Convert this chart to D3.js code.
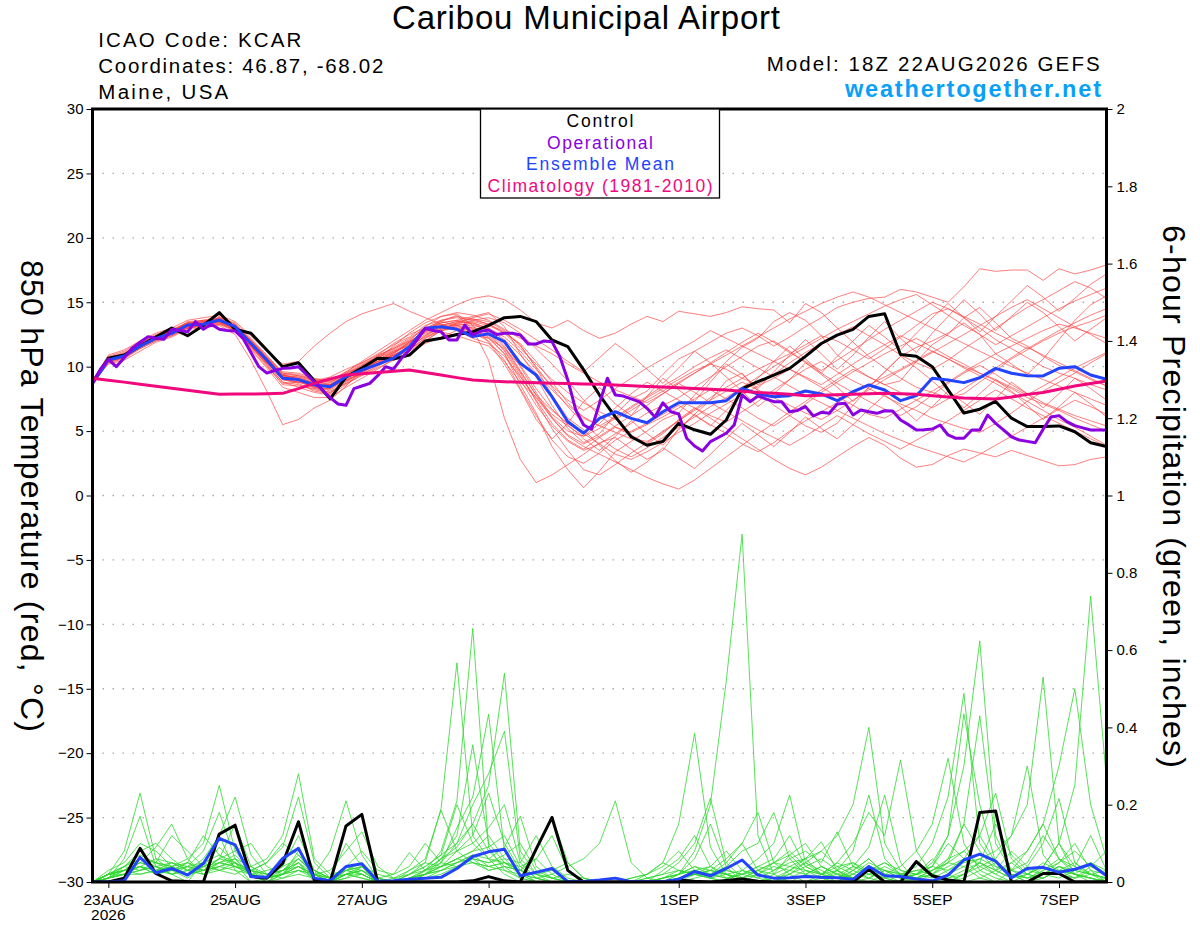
<!DOCTYPE html>
<html><head><meta charset="utf-8">
<script src="https://cdn.jsdelivr.net/npm/d3@7"></script>
<style>
body{margin:0;background:#fff}
svg{display:block}
text{font-family:"Liberation Sans",Arial,Helvetica,sans-serif}
</style>
</head><body>
<svg id="chart" width="1200" height="927"></svg>
<script>
// ---------------- DATA ----------------
const runStart = "2026-08-22T18:00:00Z";
const runEnd = "2026-09-07T18:00:00Z";
const tempTicks = [-30,-25,-20,-15,-10,-5,0,5,10,15,20,25,30];
const gridTicks = [-25,-20,-15,-10,-5,0,5,10,15,20,25];
const precipTicks = [0,0.2,0.4,0.6,0.8,1,1.2,1.4,1.6,1.8,2];
const precipTickLabels = ["0","0.2","0.4","0.6","0.8","1","1.2","1.4","1.6","1.8","2"];
const dateTicks = ["2026-08-23","2026-08-25","2026-08-27","2026-08-29","2026-09-01","2026-09-03","2026-09-05","2026-09-07"];
const dateTickLabels = ["23AUG","25AUG","27AUG","29AUG","1SEP","3SEP","5SEP","7SEP"];
const legendItems = ["Control","Operational","Ensemble Mean","Climatology (1981-2010)"];

// 6-hourly control temperature (°C)
const controlTemp = [8.8,10.65,10.9,11.6,12.3,13.0,12.4,13.2,14.2,12.9,
 12.6,11.3,10.0,10.3,8.9,7.5,9.2,9.9,10.65,10.6,
 10.9,12.0,12.2,12.5,12.7,13.2,13.8,13.9,13.5,12.07,
 11.55,9.75,7.8,6.1,4.56,3.9,4.2,5.6,5.1,4.75,
 5.86,8.3,8.83,9.35,9.87,10.8,11.8,12.45,12.9,13.9,
 14.1,10.95,10.8,10.0,8.2,6.4,6.7,7.3,6.0,5.35,
 5.35,5.4,4.95,4.1,3.8];
// 3-hourly operational temperature (°C)
const operationalTemp = [8.7,9.8,10.57,10.0,10.7,11.43,11.9,12.33,12.2,12.12,
 12.9,12.8,12.7,13.5,12.9,13.3,12.9,12.8,12.77,12.2,
 11.1,10.0,9.5,9.7,9.87,9.9,10.0,9.4,8.83,8.19,
 7.6,7.1,7.0,8.3,8.5,8.7,9.3,10.0,9.8,10.65,
 11.3,12.1,12.98,12.8,12.7,12.07,12.07,13.23,12.46,12.75,
 12.85,12.5,12.6,12.6,12.46,11.76,11.76,12.0,11.94,10.77,
 8.97,6.64,5.47,5.14,7.16,9.1,7.8,7.72,7.5,7.28,
 6.77,6.1,7.2,6.5,6.33,4.44,3.84,3.45,4.18,4.5,
 4.83,5.47,7.8,7.28,7.72,7.5,7.28,7.28,6.5,6.6,
 6.9,6.17,6.46,6.38,7.1,7.16,6.25,6.64,6.5,6.38,
 6.58,6.56,5.86,5.5,5.08,5.1,5.16,5.47,4.7,4.44,
 4.44,5.08,5.08,6.25,5.6,5.1,4.56,4.3,4.2,4.1,
 5.14,6.1,6.2,5.73,5.42,5.25,5.08,5.08,5.08];
// 6-hourly ensemble mean temperature (°C)
const meanTemp = [8.71,10.52,10.83,11.6,12.2,12.59,13.23,13.29,13.62,13.1,
 11.8,10.52,9.1,9.0,8.58,8.45,9.22,9.74,10.18,10.67,
 11.55,12.98,13.1,12.9,12.33,12.55,11.94,10.26,9.35,7.67,
 5.73,4.83,5.99,6.5,5.99,5.65,6.5,7.2,7.2,7.2,
 7.36,8.32,7.88,7.67,7.75,8.11,7.88,7.36,8.06,8.58,
 8.19,7.36,7.75,9.1,8.97,8.76,9.14,9.87,9.49,9.3,
 9.28,9.87,10.0,9.35,9.02];
// 6-hourly climatology (°C)
const climTemp = [9.1,8.95,8.8,8.63,8.48,8.32,8.17,8.01,7.86,7.87,
 7.88,7.9,7.93,8.3,8.7,9.05,9.35,9.45,9.55,9.65,
 9.74,9.55,9.35,9.15,8.97,8.88,8.83,8.8,8.76,8.72,
 8.69,8.66,8.63,8.58,8.52,8.47,8.42,8.36,8.3,8.24,
 8.19,8.1,8.0,7.93,7.85,7.75,7.78,7.82,7.86,7.9,
 7.93,7.9,7.85,7.75,7.65,7.56,7.52,7.49,7.65,7.85,
 8.0,8.25,8.5,8.7,8.89];
// ensemble members, 6-hourly temperature (°C)
const tempMembers = [
[8.9,10.8,11.2,11.9,12.5, 12.9,13.4,13.6,13.9,13.3, 12.0,10.6,9.4,9.0,8.3, 8.0,8.7,9.5,10.3,11.0, 11.8,12.9,13.4,13.6,13.9, 14.2,13.1,11.0,9.2,7.0, 5.2,4.1,4.8,6.3,7.5, 8.1,9.4,10.6,11.2,11.9, 12.6,13.0,12.4,11.6,12.3, 13.1,13.8,14.6,15.0,15.3, 15.4,16.0,15.8,15.4,15.0, 16.2,17.6,17.4,17.5,17.5, 16.7,17.6,17.2,17.5,17.9],
[8.6,10.3,10.6,11.4,12.0, 12.4,13.0,13.3,13.5,13.0, 11.5,10.2,8.8,8.4,8.0, 7.8,8.6,9.4,10.1,11.0, 11.9,12.8,13.5,14.0,12.9, 10.5,6.0,2.8,1.0,1.6, 2.4,3.2,4.1,4.5,3.6, 2.8,3.5,5.2,6.3,7.4, 8.9,9.5,8.1,7.0,6.2, 5.4,4.9,5.6,7.0,8.4, 9.6,10.8,11.5,12.0,12.6, 13.4,12.5,11.0,10.2,9.4, 10.6,12.1,13.6,14.8,15.5],
[8.8,10.6,10.9,11.8,12.4, 12.8,13.3,13.2,13.8,13.4, 12.2,10.9,9.5,9.3,8.9, 8.6,9.0,9.4,10.0,10.8, 11.5,12.4,13.2,13.0,12.8, 12.3,11.0,8.6,6.4,3.8, 2.0,0.6,1.9,3.4,4.2, 5.0,5.9,6.4,7.8,9.1, 10.4,11.5,12.2,13.5,14.2, 13.6,12.4,10.9,10.0,9.2, 8.6,8.9,10.4,11.7,12.5, 13.8,14.6,13.4,12.2,11.6, 10.8,10.1,9.6,9.0,8.5],
[8.7,10.4,10.9,11.6,12.3, 12.7,13.5,13.6,13.7,13.2, 12.1,10.8,9.6,9.5,9.1, 8.9,9.6,10.4,11.2,12.0, 12.8,13.6,14.2,14.8,15.3, 15.5,15.2,14.4,13.4,13.0, 13.6,12.8,12.2,12.6,13.3, 13.9,13.5,14.3,14.1,13.9, 14.2,14.65,14.5,14.4,13.4, 14.9,14.2,13.0,11.9,10.8, 9.9,9.1,8.4,8.0,7.6, 7.9,8.8,9.7,10.6,11.3, 12.0,12.6,13.1,13.5,14.0],
[8.6,10.5,10.7,11.5,12.1, 12.5,13.1,13.4,13.5,12.9, 11.6,10.1,8.6,8.5,8.3, 8.3,9.0,9.8,10.4,10.9, 11.4,12.0,12.8,13.2,13.0, 12.6,11.2,9.3,7.4,5.6, 4.3,3.6,4.5,5.3,4.7, 4.0,4.8,5.9,6.8,6.0, 5.2,4.4,3.6,2.8,2.1, 1.6,2.2,3.0,3.8,4.5, 3.9,2.9,2.2,2.4,3.1, 3.6,3.3,3.0,3.5,3.1, 2.7,2.3,2.4,2.8,3.0],
[8.8,10.2,10.5,11.2,11.9, 12.3,12.9,13.0,13.2,12.5, 10.5,8.1,5.5,5.9,6.8, 7.4,8.5,9.7,10.9,11.8, 12.5,13.0,12.7,12.4,12.0, 11.6,10.4,8.8,7.6,6.3, 5.4,4.6,5.2,6.0,6.8, 7.6,8.3,9.0,9.7,10.2, 9.8,9.1,8.6,9.4,10.3, 11.1,11.8,12.5,13.1,12.4, 11.7,10.9,10.3,9.8,10.5, 11.4,12.2,13.0,13.8,14.6, 15.2,15.9,16.6,16.1,15.3],
[8.9,10.9,11.3,12.0,12.6, 13.0,13.6,13.8,14.0,13.5, 12.4,11.2,10.2,10.4,11.6, 12.6,13.5,14.1,14.5,14.9, 14.3,13.8,13.3,12.9,12.5, 12.2,11.0,9.0,7.0,5.4, 4.2,3.5,4.0,4.8,5.6, 6.4,7.0,7.6,8.4,9.2, 10.0,10.8,11.6,12.0,11.2, 10.3,9.5,8.7,8.0,7.3, 6.7,6.2,6.9,7.8,8.7, 9.5,10.1,9.4,8.6,7.9, 7.2,6.7,6.2,5.8,5.4],
[8.7,10.6,11.0,11.7,12.3, 12.7,13.2,13.3,13.4,12.8, 11.4,10.0,8.7,8.8,8.9, 9.2,9.8,10.3,10.9,11.4, 12.0,12.6,13.1,13.4,13.5, 13.2,12.6,11.8,10.4,8.8, 7.2,6.0,5.4,4.9,4.4, 4.2,4.9,5.8,6.7,7.6, 8.4,9.1,9.8,10.4,11.0, 11.7,12.4,12.0,11.3,10.6, 11.4,12.3,13.2,14.1,14.5, 13.8,13.0,12.1,11.4,10.7, 10.0,9.5,9.1,8.6,8.2],
[8.6,10.4,10.8,11.5,12.1, 12.6,13.2,13.1,13.3,12.7, 11.5,10.4,9.3,9.2,8.7, 8.4,8.9,9.6,10.2,10.9, 11.6,12.7,13.4,13.6,13.3, 12.8,11.8,10.0,8.0,6.1, 5.0,4.6,5.6,6.8,7.9, 8.8,8.1,7.4,6.8,6.2, 5.7,6.5,7.3,8.2,9.0, 9.8,10.4,9.6,8.9,8.3, 7.7,7.1,6.6,6.0,5.6, 5.2,4.9,5.6,6.4,7.3, 8.1,8.8,9.5,10.3,11.0],
[8.8,10.7,11.1,11.8,12.4, 12.8,13.3,13.5,13.8,13.3, 12.1,10.7,9.3,9.1,8.7, 8.6,9.3,9.9,10.4,10.9, 11.4,12.2,12.9,13.3,13.6, 13.8,13.4,12.6,11.4,10.2, 8.9,7.4,6.2,5.3,4.9, 5.5,6.1,6.8,7.5,8.2, 7.5,6.8,6.0,5.4,6.2, 7.1,8.0,8.8,9.6,10.3, 11.0,11.6,12.2,11.5,10.8, 10.2,9.5,8.9,8.3,7.6, 7.1,6.6,6.0,5.5,5.0],
[8.7,10.5,10.9,11.7,12.3, 12.6,13.0,13.2,13.6,13.2, 11.9,10.6,9.2,8.9,8.4, 8.2,8.9,9.5,10.2,10.8, 11.2,12.0,12.8,13.0,12.6, 12.0,10.5,8.3,6.2,4.3, 3.0,2.5,3.3,4.3,5.0, 5.6,6.3,7.0,6.2,5.5, 4.8,4.0,3.4,4.1,5.0, 5.8,6.5,7.2,7.9,8.6, 9.2,9.8,10.5,11.2,10.6, 9.9,9.3,8.7,8.0,7.3, 6.6,5.9,5.3,4.6,3.9],
[8.9,10.6,10.8,11.6,12.2, 12.7,13.3,13.5,13.7,13.1, 11.7,10.3,9.0,8.8,8.5, 8.6,9.4,10.1,10.7,11.3, 12.0,13.1,13.9,14.2,14.0, 13.6,12.9,12.2,11.6,11.0, 10.2,9.5,8.8,8.2,7.7, 7.2,7.9,8.7,9.5,10.3, 11.1,11.9,12.6,11.9,11.1, 10.4,9.7,10.5,11.3,12.1, 12.9,13.6,14.3,15.0,14.5, 13.9,13.3,12.6,12.0,11.4, 12.1,12.8,13.4,14.0,14.5],
[8.6,10.3,10.7,11.5,12.2, 12.5,13.0,13.1,13.3,12.9, 11.8,10.7,9.4,9.0,8.5, 8.1,8.7,9.3,9.9,10.5, 11.0,11.8,12.3,12.8,13.1, 12.6,11.5,9.6,7.8,6.6, 5.6,4.8,4.0,3.2,2.8, 3.4,4.1,4.9,5.6,6.4, 7.1,7.8,8.5,9.1,9.8, 9.1,8.4,7.7,7.0,6.3, 6.0,6.7,7.4,8.1,8.8, 9.6,10.3,11.0,11.6,12.2, 12.8,13.3,13.0,12.6,12.2],
[8.8,10.5,10.8,11.6,12.2, 12.6,13.1,13.2,13.5,13.0, 11.9,10.7,9.2,9.1,8.8, 8.7,9.5,10.2,10.8,11.5, 12.2,13.0,13.3,12.8,12.2, 11.8,10.8,9.2,7.6,6.0, 4.6,3.8,3.2,2.6,2.0, 1.4,0.9,0.5,1.2,2.1, 3.0,3.9,4.8,5.6,6.5, 7.3,8.2,9.0,9.8,9.2, 8.6,8.0,7.4,6.8,7.5, 8.3,9.1,9.9,10.7,11.5, 10.9,10.3,9.7,9.1,8.5],
[8.7,10.6,10.9,11.6,12.1, 12.5,13.2,13.4,13.6,13.2, 11.8,10.4,9.0,8.8,8.6, 8.4,9.1,9.8,10.4,11.1, 11.8,12.9,13.6,13.9,13.7, 13.5,12.8,11.6,10.0,8.4, 6.9,5.6,4.5,3.6,3.0, 3.7,4.5,5.3,6.1,6.9, 7.6,8.4,9.2,10.0,10.8, 11.5,12.2,12.9,13.5,14.1, 14.7,15.2,15.6,14.8,14.0, 13.2,12.5,11.7,12.4,13.1, 13.8,14.5,15.1,15.6,16.1],
[8.8,10.4,10.7,11.5,12.3, 12.8,13.4,13.5,13.6,13.0, 11.6,10.2,8.8,8.6,8.2, 8.0,8.8,9.6,10.3,10.9, 11.5,12.4,13.0,13.3,13.2, 12.9,12.1,10.9,9.5,8.2, 7.0,6.1,5.4,6.1,6.9, 7.7,8.5,9.2,10.0,10.7, 11.3,10.6,9.9,9.2,8.5, 7.8,7.2,6.6,6.0,5.4, 4.8,4.3,3.8,3.4,3.0, 2.6,3.2,3.9,4.6,5.3, 6.0,6.7,7.4,6.9,6.3],
[8.6,10.5,10.8,11.7,12.3, 12.7,13.3,13.4,13.6,13.1, 11.9,10.6,9.3,9.2,8.9, 8.8,9.5,10.0,10.6,11.1, 11.7,12.5,13.0,13.2,13.4, 13.0,12.3,11.2,9.8,8.5, 7.4,6.6,7.4,8.3,9.1, 9.9,10.6,11.3,12.0,12.8, 12.2,11.6,11.0,10.4,9.8, 9.2,8.6,9.4,10.2,11.0, 11.7,12.4,11.8,11.2,10.6, 10.0,9.5,9.0,8.4,7.8, 8.5,9.2,9.9,10.5,11.1],
[8.9,10.7,11.0,11.8,12.4, 12.7,13.2,13.3,13.5,12.9, 11.6,10.3,9.1,9.0,8.7, 8.5,9.2,9.9,10.5,11.2, 11.9,12.7,13.2,13.5,13.4, 12.9,11.6,9.7,7.8,6.0, 4.7,4.0,4.6,5.4,6.2, 7.0,7.9,8.7,8.0,7.2, 6.5,5.8,5.1,4.5,3.9, 4.6,5.4,6.2,5.5,4.8, 4.2,3.6,4.3,5.0,5.8, 6.6,7.4,8.2,7.5,6.8, 6.2,5.6,5.0,4.4,3.8],
[8.7,10.4,10.7,11.4,12.0, 12.4,13.0,13.2,13.4,12.8, 11.3,9.9,8.4,8.0,7.6, 7.6,8.4,9.1,9.8,10.6, 11.3,12.2,12.8,13.1,12.9, 12.4,11.3,9.5,7.3,5.2, 3.5,2.0,1.6,2.4,3.3, 4.1,5.0,5.8,6.6,7.4, 8.1,8.8,8.2,7.6,7.0, 6.4,5.9,6.6,7.4,8.2, 9.0,9.7,10.4,11.1,11.8, 12.5,13.2,13.9,14.6,15.2, 14.5,13.8,13.1,12.5,11.8],
[8.8,10.6,11.0,11.7,12.2, 12.6,13.1,13.3,13.7,13.2, 12.0,10.8,9.5,9.4,9.0, 8.9,9.6,10.3,11.0,11.7, 12.3,13.2,13.6,13.8,13.6, 13.3,12.6,11.4,10.2,9.0, 8.0,7.2,6.5,5.9,6.6, 7.4,8.1,8.8,9.5,10.2, 10.9,11.6,12.3,13.0,13.7, 14.3,14.9,15.4,15.8,15.4, 14.8,14.2,13.6,13.0,12.4, 11.8,11.2,10.6,10.0,9.5, 9.0,8.5,8.0,7.5,7.0],
[8.7,10.5,10.9,11.5,12.2, 12.8,13.2,13.6,13.4,13.0, 11.7,10.3,9.0,8.7,8.1, 7.9,8.9,9.8,10.6,11.6, 12.6,13.4,13.9,14.1,13.2, 11.9,10.2,8.2,5.9,4.4, 5.6,7.3,8.4,7.1,6.2, 7.7,9.1,8.2,7.3,8.8, 10.2,9.4,8.3,9.6,10.9, 12.1,11.0,9.8,10.9,12.3, 13.5,12.2,11.1,12.6,13.9, 15.2,14.1,12.8,13.9,15.0, 14.2,13.1,12.0,12.9,13.8],
[8.8,10.6,10.9,11.7,12.4, 12.7,13.3,13.4,13.8,13.1, 11.6,10.4,9.1,8.8,8.4, 8.3,9.1,9.7,10.4,11.1, 11.9,12.8,13.2,13.5,13.7, 13.3,12.7,11.7,9.9,7.8, 6.0,5.1,3.9,2.7,1.8, 2.6,3.7,2.9,2.1,3.2, 4.4,5.6,4.7,3.8,4.9, 6.1,5.2,4.4,5.5,6.7, 7.8,6.9,5.8,6.9,8.1, 7.2,6.3,7.5,8.8,7.9, 6.8,7.9,9.1,8.3,7.4],
[8.6,10.4,10.8,11.6,12.2, 12.6,13.1,13.3,13.5,13.0, 11.8,10.5,9.3,9.0,8.7, 8.6,9.3,10.0,10.7,11.2, 11.6,12.3,12.9,13.4,13.8, 14.1,13.6,12.9,12.1,11.3, 10.4,9.6,10.7,11.8,10.9, 9.8,8.7,9.9,11.2,10.3, 9.2,8.1,6.9,7.9,9.0, 10.3,9.4,8.4,7.3,8.4, 9.6,10.8,9.9,8.9,7.8, 6.8,7.9,9.0,8.1,7.0, 5.9,6.9,8.0,7.1,6.1],
[8.9,10.7,11.0,11.8,12.3, 12.8,13.4,13.5,13.6,13.2, 12.0,10.7,9.4,9.3,9.0, 8.8,9.4,10.1,10.8,11.4, 12.1,13.0,13.5,13.2,12.7, 12.2,11.4,10.1,8.3,6.7, 5.5,4.4,3.5,4.6,5.8, 4.8,3.9,5.1,6.3,5.4, 6.6,7.9,9.1,10.4,11.6, 10.6,9.5,10.8,12.0,13.2, 12.3,11.3,12.6,13.8,14.9, 13.8,12.7,13.9,15.1,16.3, 15.4,14.3,15.3,16.4,17.2]
];

// 6-hour precipitation (inches)
const controlPrecip = [0,0,0.01,0.087,0.022,0.003,0.001,0,0.124,0.147,0.014,0.01,0.048,
 0.156,0.005,0,0.145,0.175,0,0,0,0,0,0,0.003,0.014,
 0.003,0,0.085,0.167,0.03,0,0,0,0,0,0,0.005,0.002,
 0,0.004,0.008,0.002,0,0,0,0,0,0,0.033,0,0,
 0.053,0.016,0.005,0,0.18,0.184,0,0,0.022,0.022,0,0,0];
const meanPrecip = [0,0,0.003,0.064,0.024,0.035,0.018,0.048,0.113,0.096,0.014,0.012,0.061,
 0.087,0.01,0.003,0.04,0.047,0.002,0.003,0.007,0.01,0.012,0.035,0.066,0.078,
 0.085,0.016,0.025,0.035,0.001,0.001,0.005,0.01,0.001,0.001,0.001,0.007,0.027,
 0.016,0.035,0.057,0.018,0.01,0.011,0.014,0.012,0.011,0.007,0.04,0.016,0.014,
 0.008,0.003,0.018,0.057,0.072,0.054,0.011,0.035,0.038,0.025,0.033,0.046,0.016];
const precipMembers = [
[0,0.02,0.08,0.23,0.06,0.03,0.01,0.04,0.09,0.05,0,0,0.03, 0.07,0.02,0,0.04,0.03,0,0,0.02,0.05,0.19,0.567,0.12,0.06, 0.02,0,0,0,0,0,0,0,0,0,0,0.02,0.08, 0.2,0.52,0.9,0.12,0.02,0,0,0,0.03,0,0,0,0, 0,0,0.02,0.04,0.01,0,0,0,0.03,0.05,0.1,0.03,0],
[0,0.01,0.06,0.17,0.04,0.02,0,0.05,0.12,0.03,0,0.01,0.02, 0.05,0,0,0.02,0.01,0,0,0.01,0.03,0.08,0.21,0.656,0.09, 0.03,0.01,0,0,0,0,0,0,0,0,0,0,0.02, 0.01,0,0.03,0.02,0,0,0,0.02,0.03,0.08,0.225,0.06,0.02, 0,0,0.01,0.02,0.05,0.02,0,0,0.04,0.1,0.25,0.74,0.264],
[0,0.03,0.05,0.1,0.08,0.04,0.02,0.03,0.06,0.15,0.04,0.01,0.02, 0.04,0.01,0,0.03,0.02,0,0,0,0.02,0.06,0.12,0.355,0.1, 0.05,0.02,0,0,0,0,0,0,0,0,0.01,0.03,0.02, 0.04,0.02,0,0,0,0.02,0.05,0.03,0.01,0.04,0.09,0.225,0.05, 0,0,0,0.02,0.04,0.06,0.12,0.2,0.53,0.1,0.02,0,0.01],
[0,0.02,0.04,0.08,0.1,0.06,0.03,0.02,0.05,0.07,0.03,0,0.01, 0.03,0.02,0,0.01,0.04,0,0,0.02,0.04,0.07,0.1,0.15,0.08, 0.04,0.01,0,0,0,0,0,0,0,0.02,0.04,0.08,0.03, 0.01,0,0,0.02,0.05,0.08,0.04,0.02,0.05,0.1,0.18,0.12,0.316, 0.08,0.02,0,0.01,0.03,0.05,0.02,0,0.02,0.04,0.02,0.01,0],
[0,0.01,0.03,0.05,0.09,0.15,0.06,0.02,0.04,0.06,0.02,0.01,0.04, 0.12,0.03,0,0.02,0.01,0,0,0.01,0.03,0.05,0.14,0.22,0.434, 0.08,0.02,0,0,0,0,0,0,0.01,0.02,0.05,0.15,0.385, 0.09,0.02,0,0,0.01,0.03,0.06,0.02,0,0.02,0.05,0.03,0.01, 0,0.02,0.06,0.08,0.04,0.02,0.05,0.08,0.15,0.06,0.02,0.01,0],
[0,0.02,0.04,0.06,0.05,0.12,0.08,0.04,0.03,0.05,0.02,0,0.02, 0.06,0.02,0.01,0.1,0.04,0,0,0,0.02,0.04,0.08,0.12,0.23, 0.1,0.03,0,0,0,0,0,0,0,0,0.03,0.06,0.12, 0.04,0.01,0,0,0.02,0.07,0.03,0.01,0,0.03,0.06,0.02,0, 0.05,0.02,0,0.02,0.05,0.03,0.01,0.04,0.1,0.216,0.05,0.02,0.01],
[0,0.01,0.02,0.05,0.04,0.03,0.05,0.12,0.07,0.04,0.02,0.01,0.03, 0.05,0.01,0,0.03,0.05,0.01,0,0.01,0.02,0.04,0.06,0.08,0.12, 0.06,0.02,0.01,0,0,0,0,0,0,0.01,0.02,0.05,0.1, 0.217,0.05,0.01,0,0,0.03,0.02,0.04,0.02,0,0.01,0.03,0.01, 0.02,0.06,0.02,0,0.01,0.03,0.05,0.02,0.04,0.1,0.04,0.02,0],
[0,0.02,0.03,0.06,0.05,0.04,0.06,0.1,0.25,0.08,0.03,0.01,0.02, 0.04,0.02,0,0.02,0.03,0,0,0,0.03,0.06,0.09,0.15,0.25, 0.54,0.08,0.02,0,0,0,0,0,0,0,0,0.02,0.06, 0.15,0.04,0,0,0.01,0.02,0.04,0.06,0.03,0.01,0,0.02,0.04, 0.08,0.15,0.32,0.1,0.03,0.01,0,0.02,0.04,0.02,0.01,0.03,0.02],
[0,0.01,0.04,0.07,0.05,0.03,0.04,0.08,0.18,0.06,0.02,0,0.02, 0.08,0.03,0.01,0.04,0.02,0,0,0.01,0.02,0.05,0.1,0.2,0.28, 0.39,0.06,0.02,0.01,0,0,0,0,0,0,0,0.01,0.03, 0.04,0.08,0.03,0.01,0,0.01,0.03,0.02,0.05,0.03,0.01,0,0.02, 0.03,0.04,0.1,0.06,0.02,0,0.03,0.08,0.15,0.3,0.5,0.2,0.06],
[0,0.02,0.03,0.04,0.06,0.05,0.03,0.06,0.12,0.22,0.07,0.02,0.03, 0.06,0.02,0,0.02,0.04,0.01,0,0.02,0.03,0.06,0.08,0.1,0.14, 0.2,0.05,0.01,0,0,0,0,0,0,0,0.01,0.02,0.04, 0.02,0.05,0.1,0.03,0.01,0,0.02,0.04,0.02,0.01,0.03,0.05,0.02, 0.04,0.1,0.22,0.488,0.1,0.04,0.02,0.01,0.03,0.06,0.04,0.12,0.03],
[0,0.01,0.02,0.04,0.03,0.05,0.04,0.03,0.06,0.08,0.1,0.04,0.02, 0.03,0.01,0,0.01,0.02,0,0,0.03,0.05,0.04,0.06,0.08,0.09, 0.12,0.04,0.01,0,0,0,0,0,0,0,0,0.01,0.02, 0.03,0.06,0.1,0.18,0.05,0.02,0,0.01,0.03,0.05,0.02,0.01,0, 0.02,0.05,0.12,0.435,0.2,0.05,0.02,0,0.01,0.03,0.02,0.01,0],
[0,0.02,0.03,0.05,0.04,0.02,0.03,0.05,0.07,0.05,0.03,0.05,0.1, 0.07,0.03,0.01,0.03,0.02,0,0,0.01,0.02,0.03,0.05,0.07,0.06, 0.09,0.17,0.04,0.01,0,0,0,0,0,0,0.01,0.02,0.03, 0.02,0.04,0.08,0.1,0.18,0.06,0.02,0.01,0.02,0.04,0.03,0.01,0, 0.01,0.03,0.06,0.15,0.08,0.03,0.01,0.02,0.05,0.03,0.01,0.04,0.08],
[0,0.01,0.02,0.04,0.03,0.02,0.04,0.03,0.05,0.06,0.04,0.06,0.12, 0.28,0.06,0.02,0.03,0.04,0.01,0,0,0.02,0.03,0.04,0.06,0.05, 0.07,0.1,0.03,0.01,0,0,0,0,0,0.01,0.02,0.03,0.02, 0.01,0.02,0.03,0.06,0.1,0.225,0.05,0.02,0.01,0.03,0.06,0.02,0.01, 0.02,0.04,0.12,0.3,0.624,0.12,0.03,0.01,0.02,0.04,0.02,0.01,0],
[0,0.02,0.04,0.03,0.05,0.04,0.02,0.04,0.06,0.05,0.03,0.05,0.09, 0.22,0.05,0.01,0.02,0.03,0,0,0.01,0.02,0.04,0.05,0.07,0.04, 0.05,0.03,0.06,0.02,0,0,0,0,0,0,0.01,0.02,0.03, 0.02,0.01,0.02,0.04,0.06,0.12,0.04,0.02,0.01,0.02,0.04,0.03,0.02, 0.01,0.02,0.05,0.15,0.43,0.1,0.03,0.02,0.01,0.03,0.05,0.02,0.01],
[0,0.01,0.03,0.04,0.02,0.03,0.05,0.03,0.04,0.05,0.02,0.01,0.02, 0.04,0.02,0.08,0.21,0.07,0.01,0,0,0.01,0.03,0.05,0.06,0.05, 0.06,0.05,0.12,0.04,0.01,0,0,0,0,0,0,0.01,0.02, 0.03,0.02,0.01,0.03,0.05,0.07,0.1,0.04,0.02,0.01,0.03,0.05,0.03, 0.02,0.01,0.03,0.06,0.12,0.05,0.02,0.01,0.02,0.05,0.08,0.04,0.02],
[0,0.02,0.02,0.03,0.04,0.05,0.03,0.02,0.03,0.04,0.03,0.02,0.03, 0.05,0.02,0.03,0.08,0.13,0.04,0.01,0,0.01,0.02,0.04,0.05,0.03, 0.04,0.03,0.08,0.17,0.05,0.01,0,0,0,0,0,0,0.01, 0.02,0.03,0.02,0.01,0.03,0.05,0.06,0.104,0.03,0.01,0.02,0.04,0.02, 0.01,0.03,0.05,0.08,0.12,0.23,0.06,0.02,0.01,0.03,0.02,0.05,0.03],
[0,0.01,0.02,0.02,0.03,0.04,0.05,0.03,0.04,0.03,0.02,0.01,0.02, 0.03,0.02,0.01,0.04,0.08,0.03,0.02,0.076,0.03,0.04,0.06,0.05,0.04, 0.05,0.04,0.06,0.12,0.03,0,0,0,0,0,0.01,0.02,0.04, 0.03,0.02,0.01,0.02,0.04,0.03,0.05,0.08,0.04,0.02,0.01,0.03,0.02, 0.01,0.02,0.04,0.06,0.05,0.15,0.07,0.03,0.02,0.04,0.03,0.02,0.01],
[0,0.02,0.03,0.04,0.02,0.03,0.04,0.05,0.03,0.02,0.04,0.02,0.01, 0.02,0.01,0,0.02,0.03,0.01,0.02,0.04,0.1,0.05,0.04,0.06,0.03, 0.04,0.03,0.02,0.03,0.05,0.01,0,0,0,0,0,0.01,0.02, 0.01,0.03,0.02,0.04,0.03,0.06,0.08,0.05,0.13,0.04,0.02,0.01,0.02, 0.03,0.02,0.01,0.03,0.05,0.03,0.08,0.04,0.02,0.01,0.03,0.05,0.02],
[0,0.01,0.02,0.03,0.04,0.02,0.03,0.04,0.05,0.04,0.02,0.03,0.04, 0.06,0.03,0.01,0.02,0.02,0,0.01,0.03,0.06,0.186,0.08,0.05,0.04, 0.03,0.02,0.01,0.02,0.04,0.06,0.1,0.21,0.05,0.01,0,0.01,0.02, 0.02,0.01,0.02,0.03,0.02,0.04,0.03,0.02,0.04,0.05,0.03,0.02,0.01, 0.02,0.03,0.05,0.04,0.06,0.08,0.12,0.3,0.07,0.02,0.01,0.02,0.03],
[0,0.02,0.03,0.02,0.03,0.04,0.02,0.03,0.05,0.04,0.03,0.02,0.03, 0.04,0.02,0.01,0.03,0.04,0.02,0.01,0.02,0.04,0.07,0.2,0.1,0.06, 0.05,0.03,0.02,0.01,0.02,0.01,0,0,0.01,0.02,0.05,0.03,0.02, 0.03,0.02,0.01,0.03,0.05,0.04,0.06,0.08,0.12,0.2,0.4,0.1,0.03, 0.02,0.04,0.03,0.05,0.06,0.04,0.03,0.05,0.12,0.06,0.03,0.02,0.01]
];

// ---------------- CHART ----------------
const plot = {left: 92.5, right: 1106.5, top: 109, bottom: 882};
const svg = d3.select("#chart");
const t0 = new Date(runStart), t1 = new Date(runEnd);
const H6 = 6*3600*1000, H3 = 3*3600*1000;

const x = d3.scaleUtc().domain([t0, t1]).range([plot.left, plot.right]);
const yT = d3.scaleLinear().domain([-30, 30]).range([plot.bottom, plot.top]);
const yP = d3.scaleLinear().domain([0, 2]).range([plot.bottom, plot.top]);

svg.append("defs").append("clipPath").attr("id","clip")
  .append("rect").attr("x",plot.left).attr("y",plot.top)
  .attr("width",plot.right-plot.left).attr("height",plot.bottom-plot.top);

// grid
svg.append("g").selectAll("line").data(gridTicks).join("line")
  .attr("x1",plot.left).attr("x2",plot.right)
  .attr("y1",d=>yT(d)).attr("y2",d=>yT(d))
  .attr("stroke","#aaaaaa").attr("stroke-width",1.3)
  .attr("stroke-dasharray","1.5,8.5");

const lineStep = (scaleY, step) => d3.line()
  .x((d,i)=>x(new Date(t0.getTime()+i*step)))
  .y(d=>scaleY(d));

const plotG = svg.append("g").attr("clip-path","url(#clip)");

// temperature members
plotG.append("g").selectAll("path").data(tempMembers).join("path")
  .attr("d", lineStep(yT,H6)).attr("fill","none")
  .attr("stroke","#ff4040").attr("stroke-width",0.8).attr("stroke-opacity",0.85);

// precip members
plotG.append("g").selectAll("path").data(precipMembers).join("path")
  .attr("d", lineStep(yP,H6)).attr("fill","none")
  .attr("stroke","#2fd82f").attr("stroke-width",0.8);

// bold lines
const bold = (data, scaleY, step, color) => plotG.append("path")
  .datum(data).attr("d", lineStep(scaleY, step)).attr("fill","none")
  .attr("stroke", color).attr("stroke-width",3).attr("stroke-linejoin","round");

bold(controlPrecip, yP, H6, "#000000");
bold(meanPrecip, yP, H6, "#2244ff");
bold(controlTemp, yT, H6, "#000000");
bold(meanTemp, yT, H6, "#2244ff");
bold(operationalTemp, yT, H3, "#8a00e0");
bold(climTemp, yT, H6, "#f0087c");

// axes
const axFont = g => g.selectAll("text").attr("font-size",15).attr("fill","#000")
  .attr("font-family",'"Liberation Sans",Arial,Helvetica,sans-serif');

const axL = svg.append("g").attr("transform",`translate(${plot.left},0)`)
  .call(d3.axisLeft(yT).tickValues(tempTicks).tickSize(6).tickPadding(3));
axL.select(".domain").remove(); axFont(axL);

const axR = svg.append("g").attr("transform",`translate(${plot.right},0)`)
  .call(d3.axisRight(yP).tickValues(precipTicks).tickSize(6).tickPadding(4)
    .tickFormat((d,i)=>precipTickLabels[i]));
axR.select(".domain").remove(); axFont(axR);

const axB = svg.append("g").attr("transform",`translate(0,${plot.bottom})`)
  .call(d3.axisBottom(x).tickValues(dateTicks.map(d=>new Date(d+"T00:00:00Z")))
    .tickSize(6).tickPadding(6).tickFormat((d,i)=>dateTickLabels[i]));
axB.select(".domain").remove(); axFont(axB);
axB.selectAll("text").attr("font-size",15.5);
svg.append("text").attr("x", x(new Date(dateTicks[0]+"T00:00:00Z"))).attr("y",920)
  .attr("text-anchor","middle").attr("font-size",15.5).text("2026");

// frame
svg.append("rect").attr("x",plot.left).attr("y",plot.top)
  .attr("width",plot.right-plot.left).attr("height",plot.bottom-plot.top)
  .attr("fill","none").attr("stroke","#000").attr("stroke-width",3);

// legend
const lg = svg.append("g");
lg.append("rect").attr("x",480.5).attr("y",plot.top).attr("width",239).attr("height",89)
  .attr("fill","#fff").attr("stroke","#000").attr("stroke-width",1.3);
const legendColors = ["#000000","#8a00e0","#2244ff","#f0087c"];
const legendY = [127,148.5,170,192];
const legendLen = [67,106,148,225];
lg.selectAll("text").data(legendItems).join("text")
  .attr("x",600).attr("y",(d,i)=>legendY[i]).attr("text-anchor","middle")
  .attr("font-size",17.5).attr("fill",(d,i)=>legendColors[i])
  .attr("textLength",(d,i)=>legendLen[i]).attr("lengthAdjust","spacing")
  .text(d=>d);

// titles
svg.append("text").attr("x",586).attr("y",29).attr("text-anchor","middle")
  .attr("font-size",33).attr("textLength",388).attr("lengthAdjust","spacing")
  .text("Caribou Municipal Airport");

const info = [["ICAO Code: KCAR",46.7,203],["Coordinates: 46.87, -68.02",72.7,285],["Maine, USA",99,130]];
svg.append("g").selectAll("text").data(info).join("text")
  .attr("x",98.3).attr("y",d=>d[1]).attr("font-size",20.5)
  .attr("textLength",d=>d[2]).attr("lengthAdjust","spacing").text(d=>d[0]);

svg.append("text").attr("x",766.7).attr("y",70.7).attr("font-size",20.5)
  .attr("textLength",333).attr("lengthAdjust","spacing").text("Model: 18Z 22AUG2026 GEFS");
svg.append("text").attr("x",845).attr("y",96.7).attr("font-size",23.5).attr("font-weight","bold")
  .attr("fill","#0aa0f8").attr("textLength",256).attr("lengthAdjust","spacing")
  .text("weathertogether.net");

svg.append("text").attr("transform","translate(21,496) rotate(90)")
  .attr("text-anchor","middle").attr("font-size",32)
  .attr("textLength",472).attr("lengthAdjust","spacing")
  .text("850 hPa Temperature (red, °C)");
svg.append("text").attr("transform","translate(1163,496.5) rotate(90)")
  .attr("text-anchor","middle").attr("font-size",32)
  .attr("textLength",543).attr("lengthAdjust","spacing")
  .text("6-hour Precipitation (green, inches)");
</script>
</body></html>
